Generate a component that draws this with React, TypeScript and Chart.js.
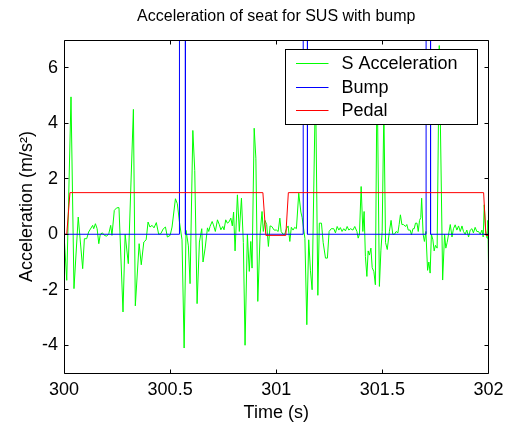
import React, { useEffect, useRef } from 'react';
import { Chart, registerables } from 'chart.js';

Chart.register(...registerables);

const titleText = 'Acceleration of seat for SUS with bump';
const xLabel = 'Time (s)';
const yLabel = 'Acceleration (m/s²)';
const seriesNames = ['S Acceleration', 'Bump', 'Pedal'];
const seriesColors = ['#00ff00', '#0000ff', '#ff0000'];

const xTicks = [300, 300.5, 301, 301.5, 302];
const yTicks = [-4, -2, 0, 2, 4, 6];

const accelTime = [
  300.000, 300.013, 300.033, 300.047, 300.067, 300.088, 300.096, 300.107, 300.116, 300.135,
  300.140, 300.148, 300.156, 300.164, 300.171, 300.181, 300.190, 300.201, 300.211, 300.220,
  300.226, 300.237, 300.248, 300.259, 300.278, 300.288, 300.303, 300.327, 300.336, 300.354,
  300.364, 300.376, 300.387, 300.396, 300.405, 300.415, 300.424, 300.435, 300.446, 300.456,
  300.468, 300.478, 300.487, 300.500, 300.509, 300.525, 300.534, 300.544, 300.556, 300.566,
  300.575, 300.586, 300.594, 300.607, 300.616, 300.627, 300.638, 300.649, 300.655, 300.665,
  300.676, 300.682, 300.688, 300.698, 300.704, 300.713, 300.723, 300.732, 300.739, 300.748,
  300.754, 300.762, 300.770, 300.778, 300.786, 300.793, 300.799, 300.806, 300.817, 300.826,
  300.836, 300.845, 300.853, 300.864, 300.873, 300.880, 300.886, 300.896, 300.904, 300.913,
  300.924, 300.933, 300.939, 300.947, 300.955, 300.963, 300.971, 300.979, 300.990, 301.001,
  301.009, 301.017, 301.023, 301.032, 301.040, 301.048, 301.056, 301.064, 301.071, 301.079,
  301.087, 301.095, 301.106, 301.116, 301.122, 301.135, 301.144, 301.153, 301.161, 301.169,
  301.185, 301.196, 301.203, 301.213, 301.221, 301.232, 301.241, 301.249, 301.259, 301.271,
  301.279, 301.287, 301.295, 301.302, 301.310, 301.318, 301.326, 301.334, 301.342, 301.350,
  301.361, 301.370, 301.380, 301.386, 301.392, 301.400, 301.408, 301.414, 301.420, 301.427,
  301.433, 301.439, 301.446, 301.452, 301.460, 301.467, 301.475, 301.486, 301.493, 301.499,
  301.507, 301.515, 301.523, 301.533, 301.541, 301.549, 301.557, 301.565, 301.573, 301.579,
  301.585, 301.592, 301.599, 301.609, 301.615, 301.622, 301.631, 301.637, 301.644, 301.650,
  301.656, 301.663, 301.669, 301.675, 301.681, 301.685, 301.692, 301.698, 301.705, 301.713,
  301.719, 301.725, 301.731, 301.738, 301.744, 301.750, 301.758, 301.768, 301.784, 301.793,
  301.799, 301.805, 301.812, 301.820, 301.828, 301.835, 301.843, 301.851, 301.859, 301.867,
  301.875, 301.882, 301.890, 301.898, 301.906, 301.914, 301.922, 301.929, 301.937, 301.945,
  301.953, 301.961, 301.969, 301.975, 301.980, 301.986, 301.993, 301.997, 302.000,
];

const accelValue = [
  0.0, -1.66, 4.95, -1.96, 0.62, -1.24, -0.16, -0.16, 0.08, 0.32,
  0.2, 0.38, 0.2, -0.34, 0.0, 0.05, -0.04, -0.07, 0.02, 0.32,
  -0.04, 0.86, 0.95, 0.96, -2.8, 0.0, -1.06, 4.5, -2.58, -0.34,
  -1.1, -0.28, -0.2, 0.44, 0.26, 0.32, 0.23, 0.42, 0.0, 0.02,
  0.2, 0.26, -0.1, -0.04, 0.26, 1.28, 1.1, 0.44, -0.2, -4.1,
  0.14, -0.42, -1.78, 3.74, 2.3, -2.5, -0.28, 0.2, -1.0, -0.5,
  0.23, 0.1, 0.28, 0.46, 0.34, 0.1, 0.52, 0.34, 0.16, 0.28,
  0.16, 0.52, 0.4, 0.45, 0.58, 0.3, 0.8, -0.6, 1.42, 0.1,
  1.3, -0.3, -4.0, 0.0, -1.34, -0.26, -1.22, 3.82, 2.74, -2.42,
  0.0, 0.82, 0.1, 0.5, 0.35, -0.44, 0.3, 0.28, 0.15, 0.15,
  0.1, 0.58, 0.1, 0.0, 0.0, 0.2, 0.3, -0.26, 0.25, 0.15,
  0.25, 0.2, 1.48, 0.8, 0.6, -0.15, -3.26, -0.2, -1.3, -2.0,
  5.5, -2.2, 0.4, 0.4, -0.3, -0.86, -0.86, 0.1, 0.2, 0.2,
  0.05, 0.28, 0.15, 0.24, 0.1, 0.2, 0.12, 0.28, 0.15, 0.2,
  0.15, 0.28, 0.1, -0.14, 0.0, 1.72, 0.1, 0.82, -0.8, -1.52,
  -0.6, -0.75, -0.5, -1.2, -1.35, -1.82, 6.0, -1.88, -0.6, 0.1,
  4.5, -0.3, -0.55, 0.1, 0.5, 0.0, 0.0, 0.1, 0.05, 0.35,
  0.7, 0.35, 0.35, 0.28, 0.35, 0.15, 0.15, -0.02, 0.2, 0.2,
  0.4, 0.4, 0.1, 0.5, 0.6, 1.3, 0.0, -0.26, 0.1, -1.3,
  -1.0, -1.4, 0.0, -0.2, -0.6, -0.4, -0.5, 6.8, -1.65, 0.0,
  -0.5, -0.3, 0.0, 0.35, -0.1, 0.2, 0.34, 0.15, 0.3, 0.1,
  0.3, 0.1, 0.0, 0.15, -0.1, 0.15, 0.2, 0.05, 0.25, 0.1,
  0.1, 0.0, 0.15, -0.1, 1.06, 0.15, -0.14, 0.5, -1.1,
];

const bumpTime = [300, 300.544, 300.544, 300.572, 300.572, 301.127, 301.127, 301.147, 301.147, 301.706, 301.706, 301.727, 301.727, 302];
const bumpValue = [0, 0, 10, 10, 0, 0, 10, 10, 0, 0, 10, 10, 0, 0];

const pedalTime = [300, 300.013, 300.028, 300.937, 300.951, 301.045, 301.057, 301.977, 301.988, 302];
const pedalValue = [0, 0, 1.5, 1.5, -0.04, -0.04, 1.5, 1.5, -0.04, -0.04];

const FONT = "'Liberation Sans', Arial, Helvetica, sans-serif";

function pts(t: number[], v: number[]) {
  const n = Math.min(t.length, v.length);
  const out: { x: number; y: number }[] = [];
  for (let i = 0; i < n; i++) out.push({ x: t[i], y: v[i] });
  return out;
}

const framePlugin = {
  id: 'matlabFrame',
  afterDatasetsDraw(chart: any) {
    const { ctx, chartArea: a, scales } = chart;
    const xs = scales.x;
    const ys = scales.y;
    const L = Math.floor(a.left) + 0.5;
    const R = Math.floor(a.right) + 0.5;
    const T = Math.floor(a.top) + 0.5;
    const B = Math.floor(a.bottom) + 0.5;
    const tick = 4;
    ctx.save();
    ctx.strokeStyle = '#000';
    ctx.lineWidth = 1;
    ctx.beginPath();
    ctx.moveTo(L, T);
    ctx.lineTo(R, T);
    ctx.lineTo(R, B);
    ctx.lineTo(L, B);
    ctx.closePath();
    for (const v of xTicks) {
      const px = Math.floor(xs.getPixelForValue(v)) + 0.5;
      ctx.moveTo(px, B);
      ctx.lineTo(px, B - tick);
      ctx.moveTo(px, T);
      ctx.lineTo(px, T + tick);
    }
    for (const v of yTicks) {
      const py = Math.floor(ys.getPixelForValue(v)) + 0.5;
      ctx.moveTo(L, py);
      ctx.lineTo(L + tick, py);
      ctx.moveTo(R, py);
      ctx.lineTo(R - tick, py);
    }
    ctx.stroke();

    // legend box (opaque, inside plot area, top-right)
    const boxR = Math.floor(a.right) - 10.5;
    const boxL = boxR - 192;
    const boxT = Math.floor(a.top) + 9.5;
    const boxB = boxT + 75;
    ctx.fillStyle = '#fff';
    ctx.fillRect(boxL, boxT, boxR - boxL, boxB - boxT);
    ctx.strokeRect(boxL, boxT, boxR - boxL, boxB - boxT);
    ctx.font = `18px ${FONT}`;
    ctx.textBaseline = 'middle';
    ctx.textAlign = 'left';
    const rows = [13.5, 37.5, 61];
    seriesNames.forEach((name, i) => {
      const y = Math.floor(boxT + rows[i]) + 0.5;
      ctx.strokeStyle = seriesColors[i];
      ctx.beginPath();
      ctx.moveTo(boxL + 10.5, y);
      ctx.lineTo(boxL + 43, y);
      ctx.stroke();
      ctx.fillStyle = '#000';
      ctx.fillText(name, boxL + 56, y + 0.5);
    });

    // title
    ctx.font = `16px ${FONT}`;
    ctx.textAlign = 'center';
    ctx.fillStyle = '#000';
    ctx.fillText(titleText, (a.left + a.right) / 2, 17);
    ctx.restore();
  },
};

export default function App() {
  const ref = useRef<HTMLCanvasElement>(null);
  useEffect(() => {
    const canvas = ref.current;
    if (!canvas) return;
    Chart.defaults.font.family = FONT;
    Chart.defaults.color = '#000';
    const chart = new Chart(canvas, {
      type: 'line',
      data: {
        datasets: [
          {
            label: seriesNames[0],
            data: pts(accelTime, accelValue),
            borderColor: seriesColors[0],
            borderWidth: 1,
            pointRadius: 0,
            tension: 0,
            order: 3,
          },
          {
            label: seriesNames[1],
            data: pts(bumpTime, bumpValue),
            borderColor: seriesColors[1],
            borderWidth: 1,
            pointRadius: 0,
            tension: 0,
            order: 2,
          },
          {
            label: seriesNames[2],
            data: pts(pedalTime, pedalValue),
            borderColor: seriesColors[2],
            borderWidth: 1,
            pointRadius: 0,
            tension: 0,
            order: 1,
          },
        ],
      },
      options: {
        animation: false,
        responsive: false,
        maintainAspectRatio: false,
        layout: { padding: { left: 0, right: 17.5, top: 40, bottom: 0 } },
        plugins: {
          legend: { display: false },
          title: { display: false },
          tooltip: { enabled: false },
        },
        scales: {
          x: {
            type: 'linear',
            min: 300,
            max: 302,
            grid: { display: false, drawTicks: false, tickLength: 0 },
            border: { display: false },
            ticks: {
              font: { size: 18, lineHeight: 1.2 },
              padding: 6,
              maxRotation: 0,
              autoSkip: false,
              callback: (v: any) => String(v),
            },
            afterBuildTicks: (s: any) => {
              s.ticks = xTicks.map((v) => ({ value: v }));
            },
            afterFit: (s: any) => {
              s.height = 50;
              s.paddingLeft = 0;
              s.paddingRight = 0;
            },
            title: {
              display: true,
              text: xLabel,
              font: { size: 18, lineHeight: 1 },
              padding: { top: 0, bottom: 1 },
            },
          },
          y: {
            type: 'linear',
            min: -5,
            max: 7,
            grid: { display: false, drawTicks: false, tickLength: 0 },
            border: { display: false },
            ticks: {
              font: { size: 18, lineHeight: 1.2 },
              padding: 6,
              autoSkip: false,
              callback: (v: any) => String(v),
            },
            afterBuildTicks: (s: any) => {
              s.ticks = yTicks.map((v) => ({ value: v }));
            },
            afterFit: (s: any) => {
              s.width = 64;
              s.paddingTop = 0;
              s.paddingBottom = 0;
            },
            title: {
              display: true,
              text: yLabel,
              font: { size: 18, lineHeight: 1 },
              padding: { top: 18, bottom: 0 },
            },
          },
        },
      },
      plugins: [framePlugin],
    } as any);
    return () => chart.destroy();
  }, []);
  return (
    <div style={{ position: 'fixed', left: 0, top: 0, width: 506, height: 423, background: '#fff' }}>
      <canvas ref={ref} width={506} height={423} style={{ display: 'block' }} />
    </div>
  );
}
